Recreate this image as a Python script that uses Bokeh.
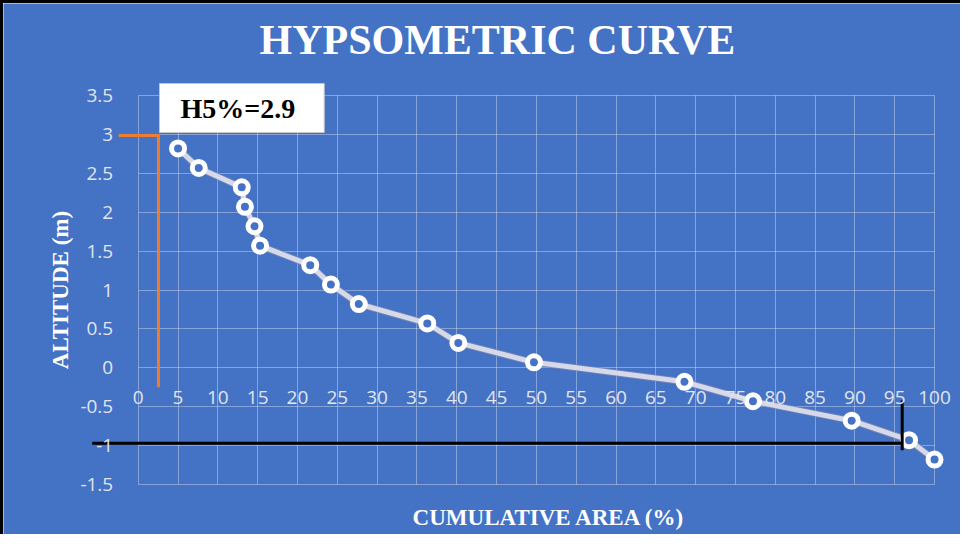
import math
from bokeh.plotting import figure
from bokeh.models import Range1d, FixedTicker, Label, LinearAxis, Grid
from bokeh.embed import file_html
from bokeh.resources import INLINE

# ---- data ----
area = [5.0, 7.6, 13.0, 13.4, 14.6, 15.3, 21.6, 24.2, 27.7, 36.3, 40.2, 49.7,
        68.6, 77.2, 89.6, 96.8, 100.0]
altitude = [2.82, 2.57, 2.32, 2.07, 1.82, 1.57, 1.32, 1.07, 0.82, 0.57, 0.32,
            0.07, -0.18, -0.43, -0.68, -0.93, -1.18]

x_ticks = list(range(0, 101, 5))
y_ticks = [-1.5, -1, -0.5, 0, 0.5, 1, 1.5, 2, 2.5, 3, 3.5]
y_tick_labels = ["-1.5", "-1", "-0.5", "0", "0.5", "1", "1.5", "2", "2.5", "3", "3.5"]
x_bounds = (0, 100)
y_bounds = (-1.5, 3.5)

title_text = "HYPSOMETRIC CURVE"
x_label = "CUMULATIVE AREA (%)"
y_label = "ALTITUDE (m)"

# H5% marker (orange) and H95% marker (black)
h5_text = "H5%=2.9"
h5_line_x = [-2.46, 2.54, 2.54]
h5_line_y = [2.987, 2.987, -0.25]
h95_line_x = [-5.78, 95.94]
h95_line_y = [-0.97, -0.97]
h95_tick_x = [95.94, 95.94]
h95_tick_y = [-0.42, -1.06]

BLUE = "#4472C4"

# the frame covers the whole canvas; axes and grids are bounded to the chart area
p = figure(width=960, height=534, output_backend="svg", toolbar_location=None,
           x_range=Range1d(-16.92, 103.64), y_range=Range1d(-2.182, 4.684),
           x_axis_location=None, y_axis_location=None,
           background_fill_color=BLUE, border_fill_color=BLUE,
           min_border=0)
p.title.visible = False
p.styles = {"border-left": "3px solid black", "border-top": "3px solid black"}
p.outline_line_color = None
p.xgrid.visible = False
p.ygrid.visible = False

xaxis = LinearAxis(fixed_location=0, bounds=x_bounds, ticker=FixedTicker(ticks=x_ticks))
yaxis = LinearAxis(fixed_location=0, bounds=y_bounds, ticker=FixedTicker(ticks=y_ticks))
yaxis.major_label_overrides = {t: l for t, l in zip(y_ticks, y_tick_labels)}
for ax in (xaxis, yaxis):
    ax.axis_line_color = None
    ax.major_tick_line_color = None
    ax.minor_tick_line_color = None
    ax.major_label_text_font = "Open Sans"
    ax.major_label_text_font_size = "19px"
    ax.major_label_text_color = "#e1e5ee"
xaxis.major_label_standoff = 17
yaxis.major_label_standoff = 19
p.add_layout(xaxis, "below")
p.add_layout(yaxis, "left")

xgrid = Grid(dimension=0, ticker=FixedTicker(ticks=x_ticks), bounds=x_bounds,
             cross_bounds=y_bounds)
ygrid = Grid(dimension=1, ticker=FixedTicker(ticks=y_ticks), bounds=y_bounds,
             cross_bounds=x_bounds)
for g in (xgrid, ygrid):
    g.grid_line_color = "white"
    g.grid_line_alpha = 0.35
    g.grid_line_width = 1
    p.add_layout(g)

# series
p.line(area, altitude, line_color="#7d86b0", line_width=7, line_alpha=0.8)
p.line(area, altitude, line_color="#d5d9ea", line_width=5)
p.scatter(area, altitude, size=13, fill_color=BLUE, line_color="white",
          line_width=5)

# orange H5% guide and black H95% guide
p.line(h5_line_x, h5_line_y, line_color="#ED7D31", line_width=3, line_join="miter")
p.line(h95_line_x, h95_line_y, line_color="black", line_width=3)
p.line(h95_tick_x, h95_tick_y, line_color="black", line_width=3)

# H5% text box
p.add_layout(Label(x=2.67, y=3.025, text=h5_text, text_font="Liberation Serif",
                   text_font_style="bold", text_font_size="28px", text_color="black",
                   anchor="bottom_left",
                   background_fill_color="white", border_line_color="#c8c8c8",
                   border_line_width=1,
                   padding=dict(left=21, right=29, top=9, bottom=9)))

# title and axis titles
p.add_layout(Label(x=45.1, y=4.21, text=title_text, text_font="Liberation Serif",
                   text_font_style="bold", text_font_size="42px", text_color="white",
                   text_align="center", text_baseline="middle"))
p.add_layout(Label(x=51.6, y=-1.93, text=x_label, text_font="Liberation Serif",
                   text_font_style="bold", text_font_size="23px", text_color="white",
                   text_align="center", text_baseline="middle"))
p.add_layout(Label(x=-9.76, y=1.0, text=y_label, text_font="Liberation Serif",
                   text_font_style="bold", text_font_size="23px", text_color="white",
                   text_align="center", text_baseline="middle", angle=math.pi / 2))

open("out.html", "w").write(file_html(p, INLINE))
